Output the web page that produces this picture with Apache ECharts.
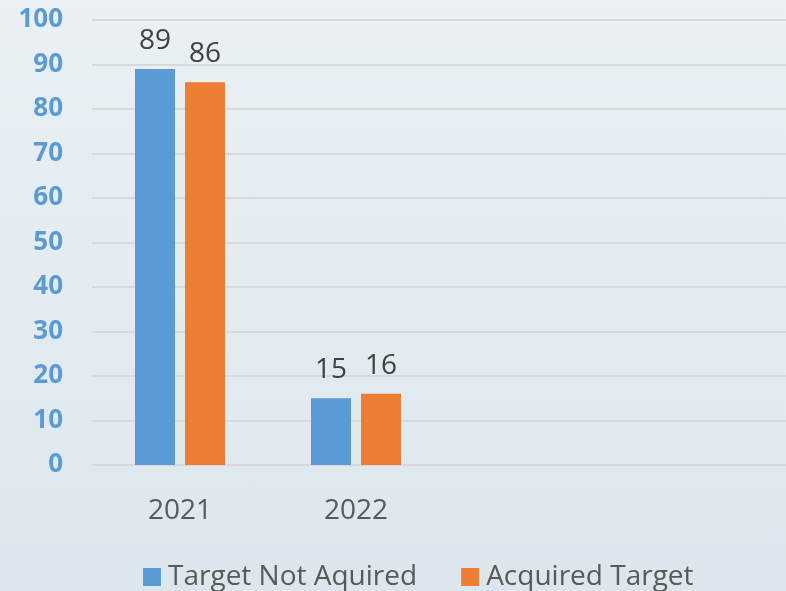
<!DOCTYPE html>
<html>
<head>
<meta charset="utf-8">
<script src="https://cdn.jsdelivr.net/npm/echarts@6/dist/echarts.min.js"></script>
<style>
html,body{margin:0;padding:0;overflow:hidden;width:786px;height:591px;}
#wrap{width:786px;height:591px;overflow:hidden;background:linear-gradient(to bottom,#eaf0f4,#dce7ed);}
#c{width:796px;height:591px;}
</style>
</head>
<body>
<div id="wrap"><div id="c"></div></div>
<script>
var categories = ['2021', '2022', '', ''];
var targetNotAquired = [89, 15, null, null];
var acquiredTarget = [86, 16, null, null];
var yTicks = [0, 100, 10];

var chart = echarts.init(document.getElementById('c'), null, {renderer: 'canvas'});
var FONT = '"Open Sans", sans-serif';
chart.setOption({
  backgroundColor: 'transparent',
  animation: false,
  grid: {left: 92, top: 20, right: 0, height: 445, containLabel: false},
  legend: {
    bottom: 0, left: 143, padding: 0,
    itemWidth: 18, itemHeight: 18, itemGap: 44,
    icon: 'rect',
    textStyle: {fontFamily: FONT, fontSize: 28, color: '#595959', padding: [0,0,0,2]},
    data: ['Target Not Aquired', 'Acquired Target']
  },
  xAxis: {
    type: 'category',
    data: categories,
    axisLine: {show: false},
    axisTick: {show: false},
    axisLabel: {fontFamily: FONT, fontSize: 28, color: '#595959', margin: 32}
  },
  yAxis: {
    type: 'value',
    min: yTicks[0], max: yTicks[1], interval: yTicks[2],
    axisLine: {show: false},
    axisTick: {show: false},
    axisLabel: {fontFamily: FONT, fontSize: 26, fontWeight: 'bold', color: '#5b9bd5', margin: 29},
    splitLine: {lineStyle: {color: '#d6dadd', width: 2}}
  },
  series: [
    {
      name: 'Target Not Aquired', type: 'bar', data: targetNotAquired,
      barWidth: 40, barGap: '25%',
      itemStyle: {color: '#5b9bd5'},
      label: {show: true, position: 'top', distance: 14, fontFamily: FONT, fontSize: 28, color: '#404040'}
    },
    {
      name: 'Acquired Target', type: 'bar', data: acquiredTarget,
      barWidth: 40,
      itemStyle: {color: '#ed7d31'},
      label: {show: true, position: 'top', distance: 14, fontFamily: FONT, fontSize: 28, color: '#404040'}
    }
  ]
});
</script>
</body>
</html>
